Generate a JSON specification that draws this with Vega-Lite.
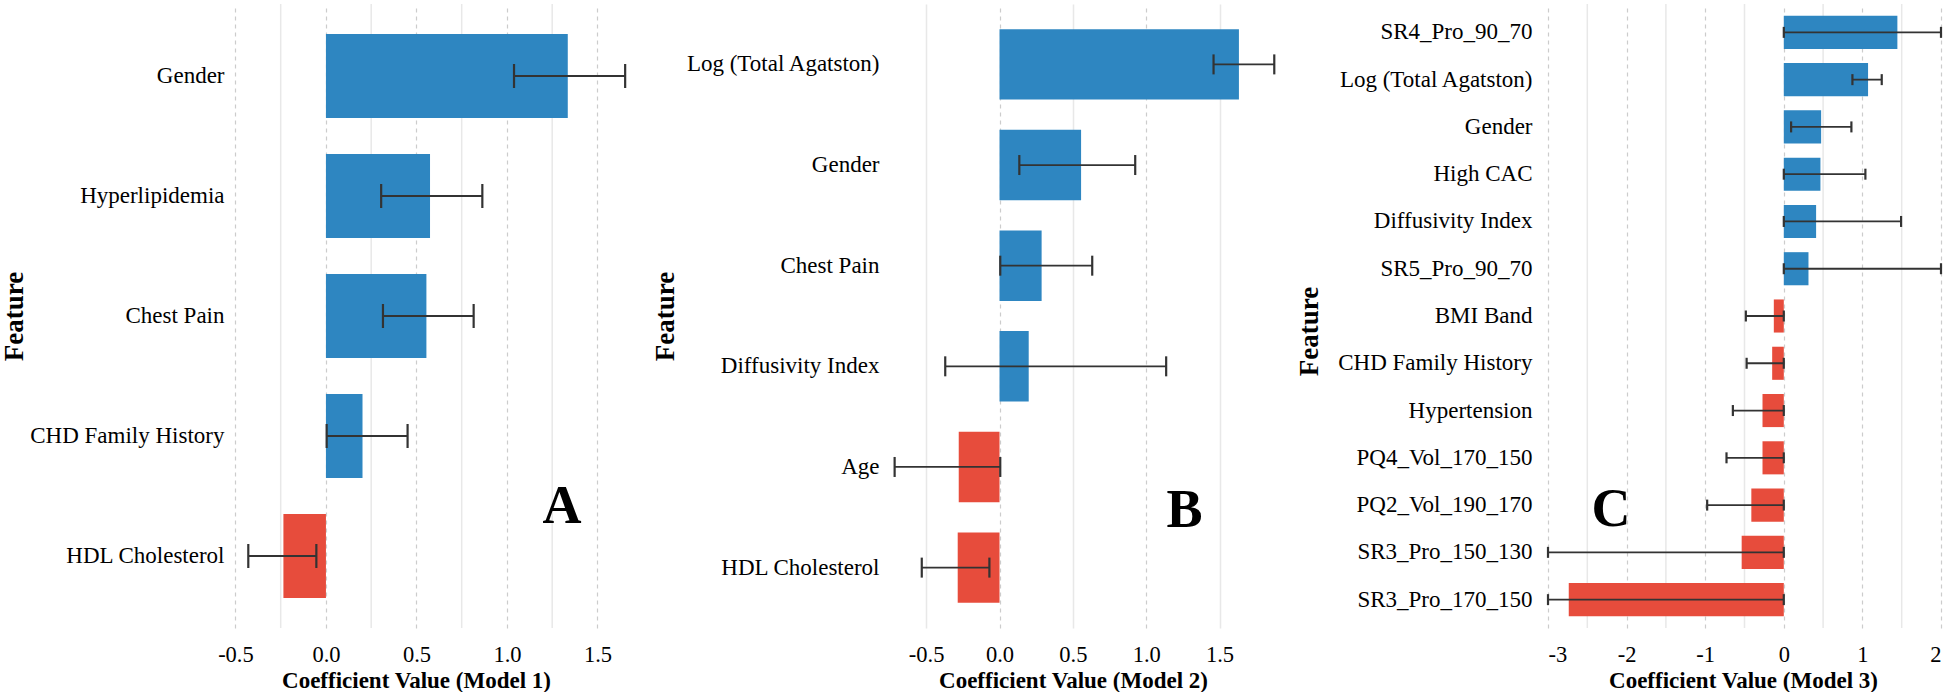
{
  "$schema": "https://vega.github.io/schema/vega-lite/v6.json",
  "autosize": {"type": "pad"},
  "padding": {"left": 0, "top": 3, "right": 0, "bottom": 0},
  "background": "white",
  "datasets": {
    "A": [
      {"feature": "Gender", "coef": 1.336, "lo": 1.039, "hi": 1.653},
      {"feature": "Hyperlipidemia", "coef": 0.575, "lo": 0.305, "hi": 0.864},
      {"feature": "Chest Pain", "coef": 0.555, "lo": 0.315, "hi": 0.816},
      {"feature": "CHD Family History", "coef": 0.202, "lo": 0.004, "hi": 0.451},
      {"feature": "HDL Cholesterol", "coef": -0.235, "lo": -0.429, "hi": -0.053}
    ],
    "B": [
      {"feature": "Log (Total Agatston)", "coef": 1.632, "lo": 1.459, "hi": 1.873},
      {"feature": "Gender", "coef": 0.556, "lo": 0.135, "hi": 0.925},
      {"feature": "Chest Pain", "coef": 0.287, "lo": 0.005, "hi": 0.632},
      {"feature": "Diffusivity Index", "coef": 0.199, "lo": -0.37, "hi": 1.136},
      {"feature": "Age", "coef": -0.278, "lo": -0.715, "hi": 0.005},
      {"feature": "HDL Cholesterol", "coef": -0.285, "lo": -0.53, "hi": -0.069}
    ],
    "C": [
      {"feature": "SR4_Pro_90_70", "coef": 1.445, "lo": 0.0, "hi": 2.0},
      {"feature": "Log (Total Agatston)", "coef": 1.072, "lo": 0.873, "hi": 1.246},
      {"feature": "Gender", "coef": 0.475, "lo": 0.093, "hi": 0.86},
      {"feature": "High CAC", "coef": 0.466, "lo": 0.0, "hi": 1.038},
      {"feature": "Diffusivity Index", "coef": 0.411, "lo": 0.0, "hi": 1.492},
      {"feature": "SR5_Pro_90_70", "coef": 0.314, "lo": 0.0, "hi": 2.0},
      {"feature": "BMI Band", "coef": -0.127, "lo": -0.483, "hi": 0.0},
      {"feature": "CHD Family History", "coef": -0.148, "lo": -0.473, "hi": 0.0},
      {"feature": "Hypertension", "coef": -0.271, "lo": -0.648, "hi": 0.0},
      {"feature": "PQ4_Vol_170_150", "coef": -0.271, "lo": -0.729, "hi": 0.0},
      {"feature": "PQ2_Vol_190_170", "coef": -0.413, "lo": -0.975, "hi": 0.0},
      {"feature": "SR3_Pro_150_130", "coef": -0.536, "lo": -3.0, "hi": 0.0},
      {"feature": "SR3_Pro_170_150", "coef": -2.736, "lo": -3.0, "hi": 0.0}
    ]
  },
  "bounds": "flush",
  "spacing": 268,
  "hconcat": [
    {
      "width": 387,
      "height": 624,
      "layer": [
        {
          "data": {"values": [{"v": -0.25}, {"v": 0.25}, {"v": 0.75}, {"v": 1.25}]},
          "mark": {"type": "rule", "color": "#e8e8e8", "strokeWidth": 1.5},
          "encoding": {
            "x": {"field": "v", "type": "quantitative", "title": "Coefficient Value (Model 1)", "scale": {"domain": [-0.519, 1.619], "nice": false, "zero": false}}
          }
        },
        {
          "data": {"name": "A"},
          "mark": {"type": "bar"},
          "encoding": {
            "y": {"field": "feature", "type": "nominal", "title": "Feature",
              "scale": {"domain": ["Gender", "Hyperlipidemia", "Chest Pain", "CHD Family History", "HDL Cholesterol"]},
              "axis": {"titleX": -218, "titleY": 312, "labelPadding": 8}},
            "x": {"field": "coef", "type": "quantitative", "title": "Coefficient Value (Model 1)",
              "scale": {"domain": [-0.519, 1.619], "nice": false, "zero": false},
              "axis": {"values": [-0.5, 0, 0.5, 1, 1.5], "format": ".1f", "labelExpr": "replace(datum.label, '\u2212', '-')", "grid": true, "titleX": 184,
                "gridDash": [4, 4], "gridColor": "#cccccc"}},
            "x2": {"datum": 0},
            "color": {"condition": {"test": "datum.coef > 0", "value": "#2E86C1"}, "value": "#E74C3C"}
          }
        },
        {
          "data": {"name": "A"},
          "mark": {"type": "rule", "color": "#333333", "strokeWidth": 1.8},
          "encoding": {
            "y": {"field": "feature", "type": "nominal", "title": "Feature"},
            "x": {"field": "lo", "type": "quantitative", "title": "Coefficient Value (Model 1)"},
            "x2": {"field": "hi"}
          }
        },
        {
          "data": {"name": "A"},
          "mark": {"type": "tick", "color": "#333333", "size": 24, "thickness": 2.2, "opacity": 1},
          "encoding": {
            "y": {"field": "feature", "type": "nominal", "title": "Feature"},
            "x": {"field": "lo", "type": "quantitative", "title": "Coefficient Value (Model 1)"}
          }
        },
        {
          "data": {"name": "A"},
          "mark": {"type": "tick", "color": "#333333", "size": 24, "thickness": 2.2, "opacity": 1},
          "encoding": {
            "y": {"field": "feature", "type": "nominal", "title": "Feature"},
            "x": {"field": "hi", "type": "quantitative", "title": "Coefficient Value (Model 1)"}
          }
        },
        {
          "data": {"values": [{"letter": "A"}]},
          "mark": {"type": "text", "fontSize": 54, "fontWeight": "bold", "font": "Liberation Serif", "baseline": "alphabetic", "align": "center", "dy": -33, "color": "#000"},
          "encoding": {
            "x": {"datum": 1.304, "type": "quantitative"},
            "y": {"datum": "HDL Cholesterol", "type": "nominal"},
            "text": {"field": "letter"}
          }
        }
      ]
    },
    {
      "width": 393,
      "height": 624,
      "layer": [
        {
          "data": {"name": "B"},
          "mark": {"type": "bar"},
          "encoding": {
            "y": {"field": "feature", "type": "nominal", "title": "Feature",
              "scale": {"domain": ["Log (Total Agatston)", "Gender", "Chest Pain", "Diffusivity Index", "Age", "HDL Cholesterol"]},
              "axis": {"titleX": -222, "titleY": 312, "labelPadding": 8}},
            "x": {"field": "coef", "type": "quantitative", "title": "Coefficient Value (Model 2)",
              "scale": {"domain": [-0.767, 1.912], "nice": false, "zero": false},
              "axis": {"values": [-0.5, 0, 0.5, 1, 1.5], "format": ".1f", "labelExpr": "replace(datum.label, '\u2212', '-')", "grid": true, "titleX": 186,
                "gridDash": {"condition": {"test": "datum.value % 1 === 0", "value": [4, 4]}, "value": [1, 0]},
                "gridColor": {"condition": {"test": "datum.value % 1 === 0", "value": "#cccccc"}, "value": "#e8e8e8"},
                "gridWidth": {"condition": {"test": "datum.value % 1 === 0", "value": 1.2}, "value": 1.5}}},
            "x2": {"datum": 0},
            "color": {"condition": {"test": "datum.coef > 0", "value": "#2E86C1"}, "value": "#E74C3C"}
          }
        },
        {
          "data": {"name": "B"},
          "mark": {"type": "rule", "color": "#333333", "strokeWidth": 1.8},
          "encoding": {
            "y": {"field": "feature", "type": "nominal", "title": "Feature"},
            "x": {"field": "lo", "type": "quantitative", "title": "Coefficient Value (Model 2)"},
            "x2": {"field": "hi"}
          }
        },
        {
          "data": {"name": "B"},
          "mark": {"type": "tick", "color": "#333333", "size": 20, "thickness": 2.2, "opacity": 1},
          "encoding": {
            "y": {"field": "feature", "type": "nominal", "title": "Feature"},
            "x": {"field": "lo", "type": "quantitative", "title": "Coefficient Value (Model 2)"}
          }
        },
        {
          "data": {"name": "B"},
          "mark": {"type": "tick", "color": "#333333", "size": 20, "thickness": 2.2, "opacity": 1},
          "encoding": {
            "y": {"field": "feature", "type": "nominal", "title": "Feature"},
            "x": {"field": "hi", "type": "quantitative", "title": "Coefficient Value (Model 2)"}
          }
        },
        {
          "data": {"values": [{"letter": "B"}]},
          "mark": {"type": "text", "fontSize": 54, "fontWeight": "bold", "font": "Liberation Serif", "baseline": "alphabetic", "align": "center", "dy": -41, "color": "#000"},
          "encoding": {
            "x": {"datum": 1.261, "type": "quantitative"},
            "y": {"datum": "HDL Cholesterol", "type": "nominal"},
            "text": {"field": "letter"}
          }
        }
      ]
    },
    {
      "width": 393,
      "height": 624,
      "layer": [
        {
          "data": {"values": [{"v": -2.5}, {"v": -1.5}, {"v": -0.5}, {"v": 0.5}, {"v": 1.5}]},
          "mark": {"type": "rule", "color": "#e8e8e8", "strokeWidth": 1.5},
          "encoding": {
            "x": {"field": "v", "type": "quantitative", "title": "Coefficient Value (Model 3)", "scale": {"domain": [-3, 2], "nice": false, "zero": false}}
          }
        },
        {
          "data": {"name": "C"},
          "mark": {"type": "bar"},
          "encoding": {
            "y": {"field": "feature", "type": "nominal", "title": "Feature",
              "scale": {"domain": ["SR4_Pro_90_70", "Log (Total Agatston)", "Gender", "High CAC", "Diffusivity Index", "SR5_Pro_90_70", "BMI Band", "CHD Family History", "Hypertension", "PQ4_Vol_170_150", "PQ2_Vol_190_170", "SR3_Pro_150_130", "SR3_Pro_170_150"]},
              "axis": {"titleX": -239, "titleY": 327, "labelPadding": 16}},
            "x": {"field": "coef", "type": "quantitative", "title": "Coefficient Value (Model 3)",
              "scale": {"domain": [-3, 2], "nice": false, "zero": false},
              "axis": {"values": [-3, -2, -1, 0, 1, 2], "format": "d", "labelExpr": "replace(datum.label, '\u2212', '-')", "grid": true, "titleX": 195,
                "gridDash": [4, 4], "gridColor": "#cccccc"}},
            "x2": {"datum": 0},
            "color": {"condition": {"test": "datum.coef > 0", "value": "#2E86C1"}, "value": "#E74C3C"}
          }
        },
        {
          "data": {"name": "C"},
          "mark": {"type": "rule", "color": "#333333", "strokeWidth": 1.8},
          "encoding": {
            "y": {"field": "feature", "type": "nominal", "title": "Feature"},
            "x": {"field": "lo", "type": "quantitative", "title": "Coefficient Value (Model 3)"},
            "x2": {"field": "hi"}
          }
        },
        {
          "data": {"name": "C"},
          "mark": {"type": "tick", "color": "#333333", "size": 11, "thickness": 2.2, "opacity": 1},
          "encoding": {
            "y": {"field": "feature", "type": "nominal", "title": "Feature"},
            "x": {"field": "lo", "type": "quantitative", "title": "Coefficient Value (Model 3)"}
          }
        },
        {
          "data": {"name": "C"},
          "mark": {"type": "tick", "color": "#333333", "size": 11, "thickness": 2.2, "opacity": 1},
          "encoding": {
            "y": {"field": "feature", "type": "nominal", "title": "Feature"},
            "x": {"field": "hi", "type": "quantitative", "title": "Coefficient Value (Model 3)"}
          }
        },
        {
          "data": {"values": [{"letter": "C"}]},
          "mark": {"type": "text", "fontSize": 54, "fontWeight": "bold", "font": "Liberation Serif", "baseline": "alphabetic", "align": "center", "dy": 21, "color": "#000"},
          "encoding": {
            "x": {"datum": -2.2, "type": "quantitative"},
            "y": {"datum": "PQ2_Vol_190_170", "type": "nominal"},
            "text": {"field": "letter"}
          }
        }
      ]
    }
  ],
  "config": {
    "view": {"stroke": null},
    "font": "Liberation Serif",
    "scale": {"bandPaddingInner": 0.3, "bandPaddingOuter": 0.25},
    "axis": {"domain": false, "ticks": false, "tickSize": 0, "labelColor": "#000", "titleColor": "#000", "labelFont": "Liberation Serif", "titleFont": "Liberation Serif"},
    "axisX": {"labelFont": "Liberation Serif", "titleFont": "Liberation Serif", "labelFontSize": 22.5, "labelPadding": 15, "titleFontSize": 23, "titleFontWeight": "bold", "titleBaseline": "alphabetic", "titleY": 59, "gridWidth": 1.2},
    "axisY": {"labelFont": "Liberation Serif", "titleFont": "Liberation Serif", "grid": false, "labelFontSize": 23, "titleFontSize": 27, "titleFontWeight": "bold", "titleBaseline": "middle", "labelLimit": 0}
  }
}
